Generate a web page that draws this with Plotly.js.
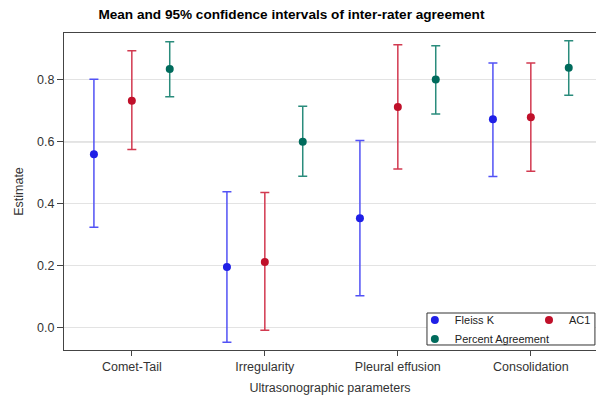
<!DOCTYPE html>
<html>
<head>
<meta charset="utf-8">
<script src="https://cdn.plot.ly/plotly-3.0.1.min.js"></script>
<style>html,body{margin:0;padding:0;background:#fff;}#chart{width:596px;height:397px;}</style>
</head>
<body>
<div id="chart"></div>
<script>
const categories = ["Comet-Tail", "Irregularity", "Pleural effusion", "Consolidation"];

const fleissMean  = [0.560, 0.196, 0.353, 0.673];
const fleissLower = [0.324, -0.047, 0.103, 0.488];
const fleissUpper = [0.802, 0.439, 0.604, 0.854];

const ac1Mean  = [0.732, 0.212, 0.712, 0.679];
const ac1Lower = [0.575, -0.008, 0.512, 0.505];
const ac1Upper = [0.894, 0.436, 0.913, 0.854];

const paMean  = [0.835, 0.600, 0.801, 0.839];
const paLower = [0.745, 0.489, 0.690, 0.750];
const paUpper = [0.923, 0.715, 0.910, 0.926];

const yTickVals = [0.0, 0.2, 0.4, 0.6, 0.8];
const referenceLine = 0.6;

function makeTrace(name, mean, lower, upper, markerColor, barColor, legendId) {
  return {
    type: 'scatter',
    mode: 'markers',
    name: name,
    x: categories,
    y: mean,
    legend: legendId,
    marker: {color: markerColor, size: 8},
    error_y: {
      type: 'data',
      symmetric: false,
      array: upper.map((u, i) => u - mean[i]),
      arrayminus: mean.map((m, i) => m - lower[i]),
      color: barColor,
      thickness: 1.5,
      width: 4.5
    },
    cliponaxis: false
  };
}

const data = [
  makeTrace('Fleiss K', fleissMean, fleissLower, fleissUpper, '#1f1fe6', '#5252f5', 'legend'),
  makeTrace('AC1', ac1Mean, ac1Lower, ac1Upper, '#c0102a', '#d23a50', 'legend2'),
  makeTrace('Percent Agreement', paMean, paLower, paUpper, '#006b5c', '#2a8c7c', 'legend')
];

const font = 'Liberation Sans, Arial, sans-serif';

const layout = {
  width: 596,
  height: 397,
  margin: {l: 64, r: 0, t: 33, b: 47},
  paper_bgcolor: '#ffffff',
  plot_bgcolor: '#ffffff',
  font: {family: font, color: '#333333', size: 12.5},
  title: {
    text: '<b>Mean and 95% confidence intervals of inter-rater agreement</b>',
    font: {family: font, size: 13.6, color: '#000000'},
    x: 0.489, xanchor: 'center',
    y: 0.964, yanchor: 'middle'
  },
  scattermode: 'group',
  scattergap: 0.145,
  xaxis: {
    type: 'category',
    range: [-0.51, 3.49],
    showgrid: false,
    zeroline: false,
    showline: true, mirror: true, linecolor: '#444444', linewidth: 1,
    ticks: 'outside', ticklen: 5, tickcolor: '#444444',
    tickfont: {size: 12.5, color: '#333333'},
    title: {text: 'Ultrasonographic parameters', font: {size: 12.5, color: '#333333'}, standoff: 10}
  },
  yaxis: {
    range: [-0.072, 0.951],
    tickvals: yTickVals,
    tickformat: '.1f',
    showgrid: true, gridcolor: '#e3e3e3', gridwidth: 1,
    zeroline: false,
    showline: true, mirror: true, linecolor: '#444444', linewidth: 1,
    ticks: 'outside', ticklen: 6, tickcolor: '#444444',
    tickfont: {size: 12.5, color: '#333333'},
    title: {text: 'Estimate', font: {size: 12.5, color: '#333333'}, standoff: 10}
  },
  shapes: [
    {type: 'line', xref: 'paper', x0: 0, x1: 1, yref: 'y', y0: referenceLine, y1: referenceLine,
     line: {color: '#a0a0a0', width: 1}, layer: 'below'},
    {type: 'rect', xref: 'paper', yref: 'paper', x0: 0.6823, x1: 0.998, y0: 0.0158, y1: 0.1167,
     fillcolor: '#ffffff', line: {color: '#333333', width: 1}, layer: 'above'}
  ],
  showlegend: true,
  legend: {
    x: 0.6595, xanchor: 'left', y: 0.14, yanchor: 'top',
    bgcolor: 'rgba(0,0,0,0)', borderwidth: 0,
    font: {size: 11, color: '#222222'},
    orientation: 'v'
  },
  legend2: {
    x: 1, xanchor: 'right', y: 0.14, yanchor: 'top',
    bgcolor: 'rgba(0,0,0,0)', borderwidth: 0,
    font: {size: 11, color: '#222222'},
    orientation: 'v'
  }
};

Plotly.newPlot('chart', data, layout, {displayModeBar: false, staticPlot: true});
</script>
</body>
</html>
